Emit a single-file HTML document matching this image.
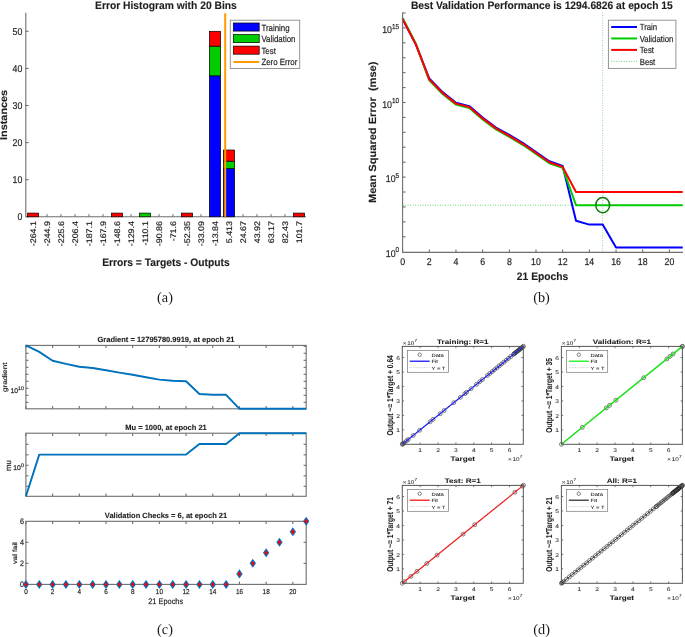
<!DOCTYPE html>
<html><head><meta charset="utf-8"><style>
html,body{margin:0;padding:0;background:#fff;}
body{width:685px;height:637px;overflow:hidden;}
svg{display:block;will-change:transform;}
text{font-family:"Liberation Sans", sans-serif;text-rendering:geometricPrecision;stroke:#1e1e1e;stroke-width:0.3px;stroke-opacity:0.6;}
text[font-weight="bold"]{stroke-width:0.2px;}
#pd text{stroke-width:0.1px;}
</style></head><body>
<svg width="685" height="637" viewBox="0 0 685 637">
<rect width="685" height="637" fill="#fff"/>
<g id="pa">
<line x1="25.80" y1="12.80" x2="25.80" y2="216.80" stroke="#6e6e6e" stroke-width="1.10"/>
<line x1="25.80" y1="216.80" x2="306.00" y2="216.80" stroke="#6e6e6e" stroke-width="1.10"/>
<line x1="25.80" y1="216.80" x2="28.60" y2="216.80" stroke="#6e6e6e" stroke-width="1.10"/>
<text x="0.00" y="0.00" font-size="9.86" text-anchor="end" fill="#1e1e1e" transform="translate(22.40 220.20) scale(0.893 1)">0</text>
<line x1="25.80" y1="179.70" x2="28.60" y2="179.70" stroke="#6e6e6e" stroke-width="1.10"/>
<text x="0.00" y="0.00" font-size="9.86" text-anchor="end" fill="#1e1e1e" transform="translate(22.40 183.10) scale(0.893 1)">10</text>
<line x1="25.80" y1="142.60" x2="28.60" y2="142.60" stroke="#6e6e6e" stroke-width="1.10"/>
<text x="0.00" y="0.00" font-size="9.86" text-anchor="end" fill="#1e1e1e" transform="translate(22.40 146.00) scale(0.893 1)">20</text>
<line x1="25.80" y1="105.50" x2="28.60" y2="105.50" stroke="#6e6e6e" stroke-width="1.10"/>
<text x="0.00" y="0.00" font-size="9.86" text-anchor="end" fill="#1e1e1e" transform="translate(22.40 108.90) scale(0.893 1)">30</text>
<line x1="25.80" y1="68.40" x2="28.60" y2="68.40" stroke="#6e6e6e" stroke-width="1.10"/>
<text x="0.00" y="0.00" font-size="9.86" text-anchor="end" fill="#1e1e1e" transform="translate(22.40 71.80) scale(0.893 1)">40</text>
<line x1="25.80" y1="31.30" x2="28.60" y2="31.30" stroke="#6e6e6e" stroke-width="1.10"/>
<text x="0.00" y="0.00" font-size="9.86" text-anchor="end" fill="#1e1e1e" transform="translate(22.40 34.70) scale(0.893 1)">50</text>
<line x1="33.00" y1="216.80" x2="33.00" y2="214.20" stroke="#6e6e6e" stroke-width="1.10"/>
<text x="0.00" y="0.00" font-size="8.10" text-anchor="end" fill="#1e1e1e" transform="translate(36.25 221.00) rotate(-90) scale(1.100 1)">-264.1</text>
<line x1="47.00" y1="216.80" x2="47.00" y2="214.20" stroke="#6e6e6e" stroke-width="1.10"/>
<text x="0.00" y="0.00" font-size="8.10" text-anchor="end" fill="#1e1e1e" transform="translate(50.25 221.00) rotate(-90) scale(1.100 1)">-244.9</text>
<line x1="61.00" y1="216.80" x2="61.00" y2="214.20" stroke="#6e6e6e" stroke-width="1.10"/>
<text x="0.00" y="0.00" font-size="8.10" text-anchor="end" fill="#1e1e1e" transform="translate(64.25 221.00) rotate(-90) scale(1.100 1)">-225.6</text>
<line x1="75.00" y1="216.80" x2="75.00" y2="214.20" stroke="#6e6e6e" stroke-width="1.10"/>
<text x="0.00" y="0.00" font-size="8.10" text-anchor="end" fill="#1e1e1e" transform="translate(78.25 221.00) rotate(-90) scale(1.100 1)">-206.4</text>
<line x1="89.00" y1="216.80" x2="89.00" y2="214.20" stroke="#6e6e6e" stroke-width="1.10"/>
<text x="0.00" y="0.00" font-size="8.10" text-anchor="end" fill="#1e1e1e" transform="translate(92.25 221.00) rotate(-90) scale(1.100 1)">-187.1</text>
<line x1="103.00" y1="216.80" x2="103.00" y2="214.20" stroke="#6e6e6e" stroke-width="1.10"/>
<text x="0.00" y="0.00" font-size="8.10" text-anchor="end" fill="#1e1e1e" transform="translate(106.25 221.00) rotate(-90) scale(1.100 1)">-167.9</text>
<line x1="117.00" y1="216.80" x2="117.00" y2="214.20" stroke="#6e6e6e" stroke-width="1.10"/>
<text x="0.00" y="0.00" font-size="8.10" text-anchor="end" fill="#1e1e1e" transform="translate(120.25 221.00) rotate(-90) scale(1.100 1)">-148.6</text>
<line x1="131.00" y1="216.80" x2="131.00" y2="214.20" stroke="#6e6e6e" stroke-width="1.10"/>
<text x="0.00" y="0.00" font-size="8.10" text-anchor="end" fill="#1e1e1e" transform="translate(134.25 221.00) rotate(-90) scale(1.100 1)">-129.4</text>
<line x1="145.00" y1="216.80" x2="145.00" y2="214.20" stroke="#6e6e6e" stroke-width="1.10"/>
<text x="0.00" y="0.00" font-size="8.10" text-anchor="end" fill="#1e1e1e" transform="translate(148.25 221.00) rotate(-90) scale(1.100 1)">-110.1</text>
<line x1="159.00" y1="216.80" x2="159.00" y2="214.20" stroke="#6e6e6e" stroke-width="1.10"/>
<text x="0.00" y="0.00" font-size="8.10" text-anchor="end" fill="#1e1e1e" transform="translate(162.25 221.00) rotate(-90) scale(1.100 1)">-90.86</text>
<line x1="173.00" y1="216.80" x2="173.00" y2="214.20" stroke="#6e6e6e" stroke-width="1.10"/>
<text x="0.00" y="0.00" font-size="8.10" text-anchor="end" fill="#1e1e1e" transform="translate(176.25 221.00) rotate(-90) scale(1.100 1)">-71.6</text>
<line x1="187.00" y1="216.80" x2="187.00" y2="214.20" stroke="#6e6e6e" stroke-width="1.10"/>
<text x="0.00" y="0.00" font-size="8.10" text-anchor="end" fill="#1e1e1e" transform="translate(190.25 221.00) rotate(-90) scale(1.100 1)">-52.35</text>
<line x1="201.00" y1="216.80" x2="201.00" y2="214.20" stroke="#6e6e6e" stroke-width="1.10"/>
<text x="0.00" y="0.00" font-size="8.10" text-anchor="end" fill="#1e1e1e" transform="translate(204.25 221.00) rotate(-90) scale(1.100 1)">-33.09</text>
<line x1="215.00" y1="216.80" x2="215.00" y2="214.20" stroke="#6e6e6e" stroke-width="1.10"/>
<text x="0.00" y="0.00" font-size="8.10" text-anchor="end" fill="#1e1e1e" transform="translate(218.25 221.00) rotate(-90) scale(1.100 1)">-13.84</text>
<line x1="229.00" y1="216.80" x2="229.00" y2="214.20" stroke="#6e6e6e" stroke-width="1.10"/>
<text x="0.00" y="0.00" font-size="8.10" text-anchor="end" fill="#1e1e1e" transform="translate(232.25 221.00) rotate(-90) scale(1.100 1)">5.413</text>
<line x1="243.00" y1="216.80" x2="243.00" y2="214.20" stroke="#6e6e6e" stroke-width="1.10"/>
<text x="0.00" y="0.00" font-size="8.10" text-anchor="end" fill="#1e1e1e" transform="translate(246.25 221.00) rotate(-90) scale(1.100 1)">24.67</text>
<line x1="257.00" y1="216.80" x2="257.00" y2="214.20" stroke="#6e6e6e" stroke-width="1.10"/>
<text x="0.00" y="0.00" font-size="8.10" text-anchor="end" fill="#1e1e1e" transform="translate(260.25 221.00) rotate(-90) scale(1.100 1)">43.92</text>
<line x1="271.00" y1="216.80" x2="271.00" y2="214.20" stroke="#6e6e6e" stroke-width="1.10"/>
<text x="0.00" y="0.00" font-size="8.10" text-anchor="end" fill="#1e1e1e" transform="translate(274.25 221.00) rotate(-90) scale(1.100 1)">63.17</text>
<line x1="285.00" y1="216.80" x2="285.00" y2="214.20" stroke="#6e6e6e" stroke-width="1.10"/>
<text x="0.00" y="0.00" font-size="8.10" text-anchor="end" fill="#1e1e1e" transform="translate(288.25 221.00) rotate(-90) scale(1.100 1)">82.43</text>
<line x1="299.00" y1="216.80" x2="299.00" y2="214.20" stroke="#6e6e6e" stroke-width="1.10"/>
<text x="0.00" y="0.00" font-size="8.10" text-anchor="end" fill="#1e1e1e" transform="translate(302.25 221.00) rotate(-90) scale(1.100 1)">101.7</text>
<rect x="27.40" y="213.09" width="11.20" height="3.71" fill="#ff0000" stroke="#000" stroke-width="0.70"/>
<rect x="111.40" y="213.09" width="11.20" height="3.71" fill="#ff0000" stroke="#000" stroke-width="0.70"/>
<rect x="139.40" y="213.09" width="11.20" height="3.71" fill="#00cc00" stroke="#000" stroke-width="0.70"/>
<rect x="181.40" y="213.09" width="11.20" height="3.71" fill="#ff0000" stroke="#000" stroke-width="0.70"/>
<rect x="209.40" y="75.82" width="11.20" height="140.98" fill="#0000ff" stroke="#000" stroke-width="0.70"/>
<rect x="209.40" y="46.14" width="11.20" height="29.68" fill="#00cc00" stroke="#000" stroke-width="0.70"/>
<rect x="209.40" y="31.30" width="11.20" height="14.84" fill="#ff0000" stroke="#000" stroke-width="0.70"/>
<rect x="223.40" y="168.57" width="11.20" height="48.23" fill="#0000ff" stroke="#000" stroke-width="0.70"/>
<rect x="223.40" y="161.15" width="11.20" height="7.42" fill="#00cc00" stroke="#000" stroke-width="0.70"/>
<rect x="223.40" y="150.02" width="11.20" height="11.13" fill="#ff0000" stroke="#000" stroke-width="0.70"/>
<rect x="293.40" y="213.09" width="11.20" height="3.71" fill="#ff0000" stroke="#000" stroke-width="0.70"/>
<line x1="225.20" y1="13.30" x2="225.20" y2="216.80" stroke="#ff9900" stroke-width="2.00"/>
<rect x="230.30" y="20.20" width="69.40" height="48.30" fill="#fff" stroke="#8a8a8a" stroke-width="0.90"/>
<rect x="233.30" y="23.00" width="25.90" height="8.10" fill="#0000ff" stroke="#000" stroke-width="0.70"/>
<text x="0.00" y="0.00" font-size="9.01" text-anchor="start" fill="#1e1e1e" transform="translate(261.40 30.90) scale(0.877 1)">Training</text>
<rect x="233.30" y="34.55" width="25.90" height="8.10" fill="#00cc00" stroke="#000" stroke-width="0.70"/>
<text x="0.00" y="0.00" font-size="9.01" text-anchor="start" fill="#1e1e1e" transform="translate(261.40 42.45) scale(0.877 1)">Validation</text>
<rect x="233.30" y="46.10" width="25.90" height="8.10" fill="#ff0000" stroke="#000" stroke-width="0.70"/>
<text x="0.00" y="0.00" font-size="9.01" text-anchor="start" fill="#1e1e1e" transform="translate(261.40 54.00) scale(0.877 1)">Test</text>
<line x1="233.30" y1="62.00" x2="259.20" y2="62.00" stroke="#ff9900" stroke-width="2.00"/>
<text x="0.00" y="0.00" font-size="9.01" text-anchor="start" fill="#1e1e1e" transform="translate(261.40 65.00) scale(0.877 1)">Zero Error</text>
<text x="0.00" y="0.00" font-size="10.92" text-anchor="middle" font-weight="bold" fill="#1e1e1e" transform="translate(165.90 8.60) scale(0.943 1)">Error Histogram with 20 Bins</text>
<text x="0.00" y="0.00" font-size="10.92" text-anchor="middle" font-weight="bold" fill="#1e1e1e" transform="translate(165.90 266.20) scale(0.943 1)">Errors = Targets - Outputs</text>
<text x="0.00" y="0.00" font-size="9.95" text-anchor="middle" font-weight="bold" fill="#1e1e1e" transform="translate(7.20 114.90) rotate(-90) scale(1.090 1)">Instances</text>
</g>
<g id="pb">
<line x1="402.60" y1="205.20" x2="683.00" y2="205.20" stroke="#33bb33" stroke-width="0.80" stroke-dasharray="0.9 1.6"/>
<line x1="602.70" y1="12.60" x2="602.70" y2="252.40" stroke="#55c055" stroke-width="0.75" stroke-dasharray="0.9 1.6"/>
<polyline points="402.60,19.00 415.94,44.60 429.28,78.50 442.62,92.10 455.96,102.70 469.30,106.10 482.64,117.50 495.98,127.50 509.32,134.90 522.66,142.90 536.00,152.10 549.34,161.30 562.68,166.00 576.02,220.80 589.36,224.60 602.70,224.60 616.04,247.60 629.38,247.60 642.72,247.60 656.06,247.60 669.40,247.60 682.74,247.60" fill="none" stroke="#0000ff" stroke-width="2.00" stroke-linejoin="round"/>
<polyline points="402.60,17.90 415.94,43.80 429.28,80.40 442.62,94.00 455.96,104.60 469.30,108.00 482.64,119.40 495.98,129.40 509.32,136.80 522.66,144.80 536.00,154.00 549.34,163.20 562.68,167.90 576.02,205.20 589.36,205.20 602.70,205.20 616.04,205.20 629.38,205.20 642.72,205.20 656.06,205.20 669.40,205.20 682.74,205.20" fill="none" stroke="#00cc00" stroke-width="2.00" stroke-linejoin="round"/>
<polyline points="402.60,19.00 415.94,44.60 429.28,79.40 442.62,93.00 455.96,103.60 469.30,107.00 482.64,118.40 495.98,128.40 509.32,135.80 522.66,143.80 536.00,153.00 549.34,162.20 562.68,166.90 576.02,192.00 589.36,192.00 602.70,192.00 616.04,192.00 629.38,192.00 642.72,192.00 656.06,192.00 669.40,192.00 682.74,192.00" fill="none" stroke="#ff0000" stroke-width="2.00" stroke-linejoin="round"/>
<ellipse cx="602.70" cy="205.1" rx="6.95" ry="7.65" fill="none" stroke="#0d760d" stroke-width="1.5"/>
<line x1="402.60" y1="12.60" x2="402.60" y2="252.40" stroke="#6e6e6e" stroke-width="1.10"/>
<line x1="402.60" y1="252.40" x2="683.00" y2="252.40" stroke="#6e6e6e" stroke-width="1.10"/>
<line x1="402.60" y1="236.78" x2="405.60" y2="236.78" stroke="#6e6e6e" stroke-width="1.10"/>
<line x1="402.60" y1="221.86" x2="405.60" y2="221.86" stroke="#6e6e6e" stroke-width="1.10"/>
<line x1="402.60" y1="206.94" x2="405.60" y2="206.94" stroke="#6e6e6e" stroke-width="1.10"/>
<line x1="402.60" y1="192.02" x2="405.60" y2="192.02" stroke="#6e6e6e" stroke-width="1.10"/>
<line x1="402.60" y1="177.10" x2="405.60" y2="177.10" stroke="#6e6e6e" stroke-width="1.10"/>
<line x1="402.60" y1="162.18" x2="405.60" y2="162.18" stroke="#6e6e6e" stroke-width="1.10"/>
<line x1="402.60" y1="147.26" x2="405.60" y2="147.26" stroke="#6e6e6e" stroke-width="1.10"/>
<line x1="402.60" y1="132.34" x2="405.60" y2="132.34" stroke="#6e6e6e" stroke-width="1.10"/>
<line x1="402.60" y1="117.42" x2="405.60" y2="117.42" stroke="#6e6e6e" stroke-width="1.10"/>
<line x1="402.60" y1="102.50" x2="405.60" y2="102.50" stroke="#6e6e6e" stroke-width="1.10"/>
<line x1="402.60" y1="87.58" x2="405.60" y2="87.58" stroke="#6e6e6e" stroke-width="1.10"/>
<line x1="402.60" y1="72.66" x2="405.60" y2="72.66" stroke="#6e6e6e" stroke-width="1.10"/>
<line x1="402.60" y1="57.74" x2="405.60" y2="57.74" stroke="#6e6e6e" stroke-width="1.10"/>
<line x1="402.60" y1="42.82" x2="405.60" y2="42.82" stroke="#6e6e6e" stroke-width="1.10"/>
<line x1="402.60" y1="27.90" x2="405.60" y2="27.90" stroke="#6e6e6e" stroke-width="1.10"/>
<line x1="402.60" y1="12.98" x2="405.60" y2="12.98" stroke="#6e6e6e" stroke-width="1.10"/>
<text font-size="9.8" text-anchor="end" fill="#1e1e1e" transform="translate(399.20 257.00) scale(0.9 1)">10<tspan font-size="7.2" dy="-4.6">0</tspan></text>
<text font-size="9.8" text-anchor="end" fill="#1e1e1e" transform="translate(399.20 182.40) scale(0.9 1)">10<tspan font-size="7.2" dy="-4.6">5</tspan></text>
<text font-size="9.8" text-anchor="end" fill="#1e1e1e" transform="translate(399.20 107.80) scale(0.9 1)">10<tspan font-size="7.2" dy="-4.6">10</tspan></text>
<text font-size="9.8" text-anchor="end" fill="#1e1e1e" transform="translate(399.20 33.20) scale(0.9 1)">10<tspan font-size="7.2" dy="-4.6">15</tspan></text>
<line x1="402.60" y1="252.40" x2="402.60" y2="249.40" stroke="#6e6e6e" stroke-width="1.10"/>
<text x="0.00" y="0.00" font-size="9.86" text-anchor="middle" fill="#1e1e1e" transform="translate(402.60 265.40) scale(0.893 1)">0</text>
<line x1="429.28" y1="252.40" x2="429.28" y2="249.40" stroke="#6e6e6e" stroke-width="1.10"/>
<text x="0.00" y="0.00" font-size="9.86" text-anchor="middle" fill="#1e1e1e" transform="translate(429.28 265.40) scale(0.893 1)">2</text>
<line x1="455.96" y1="252.40" x2="455.96" y2="249.40" stroke="#6e6e6e" stroke-width="1.10"/>
<text x="0.00" y="0.00" font-size="9.86" text-anchor="middle" fill="#1e1e1e" transform="translate(455.96 265.40) scale(0.893 1)">4</text>
<line x1="482.64" y1="252.40" x2="482.64" y2="249.40" stroke="#6e6e6e" stroke-width="1.10"/>
<text x="0.00" y="0.00" font-size="9.86" text-anchor="middle" fill="#1e1e1e" transform="translate(482.64 265.40) scale(0.893 1)">6</text>
<line x1="509.32" y1="252.40" x2="509.32" y2="249.40" stroke="#6e6e6e" stroke-width="1.10"/>
<text x="0.00" y="0.00" font-size="9.86" text-anchor="middle" fill="#1e1e1e" transform="translate(509.32 265.40) scale(0.893 1)">8</text>
<line x1="536.00" y1="252.40" x2="536.00" y2="249.40" stroke="#6e6e6e" stroke-width="1.10"/>
<text x="0.00" y="0.00" font-size="9.86" text-anchor="middle" fill="#1e1e1e" transform="translate(536.00 265.40) scale(0.893 1)">10</text>
<line x1="562.68" y1="252.40" x2="562.68" y2="249.40" stroke="#6e6e6e" stroke-width="1.10"/>
<text x="0.00" y="0.00" font-size="9.86" text-anchor="middle" fill="#1e1e1e" transform="translate(562.68 265.40) scale(0.893 1)">12</text>
<line x1="589.36" y1="252.40" x2="589.36" y2="249.40" stroke="#6e6e6e" stroke-width="1.10"/>
<text x="0.00" y="0.00" font-size="9.86" text-anchor="middle" fill="#1e1e1e" transform="translate(589.36 265.40) scale(0.893 1)">14</text>
<line x1="616.04" y1="252.40" x2="616.04" y2="249.40" stroke="#6e6e6e" stroke-width="1.10"/>
<text x="0.00" y="0.00" font-size="9.86" text-anchor="middle" fill="#1e1e1e" transform="translate(616.04 265.40) scale(0.893 1)">16</text>
<line x1="642.72" y1="252.40" x2="642.72" y2="249.40" stroke="#6e6e6e" stroke-width="1.10"/>
<text x="0.00" y="0.00" font-size="9.86" text-anchor="middle" fill="#1e1e1e" transform="translate(642.72 265.40) scale(0.893 1)">18</text>
<line x1="669.40" y1="252.40" x2="669.40" y2="249.40" stroke="#6e6e6e" stroke-width="1.10"/>
<text x="0.00" y="0.00" font-size="9.86" text-anchor="middle" fill="#1e1e1e" transform="translate(669.40 265.40) scale(0.893 1)">20</text>
<rect x="608.40" y="20.20" width="67.50" height="48.20" fill="#fff" stroke="#8a8a8a" stroke-width="0.90"/>
<line x1="611.20" y1="27.00" x2="637.00" y2="27.00" stroke="#0000ff" stroke-width="2.00"/>
<text x="0.00" y="0.00" font-size="8.89" text-anchor="start" fill="#1e1e1e" transform="translate(639.70 30.10) scale(0.877 1)">Train</text>
<line x1="611.20" y1="38.45" x2="637.00" y2="38.45" stroke="#00cc00" stroke-width="2.00"/>
<text x="0.00" y="0.00" font-size="8.89" text-anchor="start" fill="#1e1e1e" transform="translate(639.70 41.55) scale(0.877 1)">Validation</text>
<line x1="611.20" y1="49.90" x2="637.00" y2="49.90" stroke="#ff0000" stroke-width="2.00"/>
<text x="0.00" y="0.00" font-size="8.89" text-anchor="start" fill="#1e1e1e" transform="translate(639.70 53.00) scale(0.877 1)">Test</text>
<line x1="611.20" y1="61.40" x2="637.00" y2="61.40" stroke="#33bb33" stroke-width="0.80" stroke-dasharray="0.9 1.6"/>
<text x="0.00" y="0.00" font-size="8.89" text-anchor="start" fill="#1e1e1e" transform="translate(639.70 64.50) scale(0.877 1)">Best</text>
<text x="0.00" y="0.00" font-size="10.92" text-anchor="middle" font-weight="bold" fill="#1e1e1e" transform="translate(541.80 8.60) scale(0.943 1)">Best Validation Performance is 1294.6826 at epoch 15</text>
<text x="0.00" y="0.00" font-size="10.92" text-anchor="middle" font-weight="bold" fill="#1e1e1e" transform="translate(542.60 279.80) scale(0.943 1)">21 Epochs</text>
<text x="0.00" y="0.00" font-size="10.40" text-anchor="middle" font-weight="bold" fill="#1e1e1e" transform="translate(376.40 132.30) rotate(-90) scale(1.065 1)">Mean Squared Error &#160;(mse)</text>
</g>
<g id="pc">
<rect x="25.90" y="345.40" width="280.30" height="63.40" fill="none" stroke="#6e6e6e" stroke-width="1.10"/>
<line x1="25.90" y1="408.80" x2="25.90" y2="406.10" stroke="#6e6e6e" stroke-width="1.10"/>
<line x1="25.90" y1="345.40" x2="25.90" y2="348.10" stroke="#6e6e6e" stroke-width="1.10"/>
<line x1="52.60" y1="408.80" x2="52.60" y2="406.10" stroke="#6e6e6e" stroke-width="1.10"/>
<line x1="52.60" y1="345.40" x2="52.60" y2="348.10" stroke="#6e6e6e" stroke-width="1.10"/>
<line x1="79.29" y1="408.80" x2="79.29" y2="406.10" stroke="#6e6e6e" stroke-width="1.10"/>
<line x1="79.29" y1="345.40" x2="79.29" y2="348.10" stroke="#6e6e6e" stroke-width="1.10"/>
<line x1="105.99" y1="408.80" x2="105.99" y2="406.10" stroke="#6e6e6e" stroke-width="1.10"/>
<line x1="105.99" y1="345.40" x2="105.99" y2="348.10" stroke="#6e6e6e" stroke-width="1.10"/>
<line x1="132.68" y1="408.80" x2="132.68" y2="406.10" stroke="#6e6e6e" stroke-width="1.10"/>
<line x1="132.68" y1="345.40" x2="132.68" y2="348.10" stroke="#6e6e6e" stroke-width="1.10"/>
<line x1="159.38" y1="408.80" x2="159.38" y2="406.10" stroke="#6e6e6e" stroke-width="1.10"/>
<line x1="159.38" y1="345.40" x2="159.38" y2="348.10" stroke="#6e6e6e" stroke-width="1.10"/>
<line x1="186.07" y1="408.80" x2="186.07" y2="406.10" stroke="#6e6e6e" stroke-width="1.10"/>
<line x1="186.07" y1="345.40" x2="186.07" y2="348.10" stroke="#6e6e6e" stroke-width="1.10"/>
<line x1="212.77" y1="408.80" x2="212.77" y2="406.10" stroke="#6e6e6e" stroke-width="1.10"/>
<line x1="212.77" y1="345.40" x2="212.77" y2="348.10" stroke="#6e6e6e" stroke-width="1.10"/>
<line x1="239.46" y1="408.80" x2="239.46" y2="406.10" stroke="#6e6e6e" stroke-width="1.10"/>
<line x1="239.46" y1="345.40" x2="239.46" y2="348.10" stroke="#6e6e6e" stroke-width="1.10"/>
<line x1="266.16" y1="408.80" x2="266.16" y2="406.10" stroke="#6e6e6e" stroke-width="1.10"/>
<line x1="266.16" y1="345.40" x2="266.16" y2="348.10" stroke="#6e6e6e" stroke-width="1.10"/>
<line x1="292.85" y1="408.80" x2="292.85" y2="406.10" stroke="#6e6e6e" stroke-width="1.10"/>
<line x1="292.85" y1="345.40" x2="292.85" y2="348.10" stroke="#6e6e6e" stroke-width="1.10"/>
<line x1="25.90" y1="346.30" x2="28.50" y2="346.30" stroke="#6e6e6e" stroke-width="1.10"/>
<line x1="306.20" y1="346.30" x2="303.60" y2="346.30" stroke="#6e6e6e" stroke-width="1.10"/>
<line x1="25.90" y1="353.30" x2="28.50" y2="353.30" stroke="#6e6e6e" stroke-width="1.10"/>
<line x1="306.20" y1="353.30" x2="303.60" y2="353.30" stroke="#6e6e6e" stroke-width="1.10"/>
<line x1="25.90" y1="360.30" x2="28.50" y2="360.30" stroke="#6e6e6e" stroke-width="1.10"/>
<line x1="306.20" y1="360.30" x2="303.60" y2="360.30" stroke="#6e6e6e" stroke-width="1.10"/>
<line x1="25.90" y1="367.30" x2="28.50" y2="367.30" stroke="#6e6e6e" stroke-width="1.10"/>
<line x1="306.20" y1="367.30" x2="303.60" y2="367.30" stroke="#6e6e6e" stroke-width="1.10"/>
<line x1="25.90" y1="374.30" x2="28.50" y2="374.30" stroke="#6e6e6e" stroke-width="1.10"/>
<line x1="306.20" y1="374.30" x2="303.60" y2="374.30" stroke="#6e6e6e" stroke-width="1.10"/>
<line x1="25.90" y1="381.30" x2="28.50" y2="381.30" stroke="#6e6e6e" stroke-width="1.10"/>
<line x1="306.20" y1="381.30" x2="303.60" y2="381.30" stroke="#6e6e6e" stroke-width="1.10"/>
<line x1="25.90" y1="388.30" x2="28.50" y2="388.30" stroke="#6e6e6e" stroke-width="1.10"/>
<line x1="306.20" y1="388.30" x2="303.60" y2="388.30" stroke="#6e6e6e" stroke-width="1.10"/>
<line x1="25.90" y1="395.30" x2="28.50" y2="395.30" stroke="#6e6e6e" stroke-width="1.10"/>
<line x1="306.20" y1="395.30" x2="303.60" y2="395.30" stroke="#6e6e6e" stroke-width="1.10"/>
<line x1="25.90" y1="402.30" x2="28.50" y2="402.30" stroke="#6e6e6e" stroke-width="1.10"/>
<line x1="306.20" y1="402.30" x2="303.60" y2="402.30" stroke="#6e6e6e" stroke-width="1.10"/>
<polyline points="25.90,345.40 39.25,351.90 52.60,360.80 65.94,363.90 79.29,366.80 92.64,368.00 105.99,370.20 119.33,372.60 132.68,374.70 146.03,377.30 159.38,379.60 172.72,380.80 186.07,381.20 199.42,394.00 212.77,394.80 226.11,394.80 239.46,408.80 252.81,408.80 266.16,408.80 279.50,408.80 292.85,408.80 306.20,408.80" fill="none" stroke="#0072bd" stroke-width="1.90" stroke-linejoin="round"/>
<text x="23.8" y="393.0" font-size="6.8" text-anchor="end" fill="#1e1e1e">10<tspan font-size="5.2" dy="-3.1">10</tspan></text>
<text font-size="6.5" text-anchor="middle" fill="#1e1e1e" transform="translate(7.0 377.3) rotate(-90) scale(1.26 1)">gradient</text>
<text x="166.00" y="341.60" font-size="7.50" text-anchor="middle" font-weight="bold" fill="#1e1e1e">Gradient = 12795780.9919, at epoch 21</text>
<rect x="25.90" y="433.20" width="280.30" height="63.10" fill="none" stroke="#6e6e6e" stroke-width="1.10"/>
<line x1="25.90" y1="496.30" x2="25.90" y2="493.60" stroke="#6e6e6e" stroke-width="1.10"/>
<line x1="25.90" y1="433.20" x2="25.90" y2="435.90" stroke="#6e6e6e" stroke-width="1.10"/>
<line x1="52.60" y1="496.30" x2="52.60" y2="493.60" stroke="#6e6e6e" stroke-width="1.10"/>
<line x1="52.60" y1="433.20" x2="52.60" y2="435.90" stroke="#6e6e6e" stroke-width="1.10"/>
<line x1="79.29" y1="496.30" x2="79.29" y2="493.60" stroke="#6e6e6e" stroke-width="1.10"/>
<line x1="79.29" y1="433.20" x2="79.29" y2="435.90" stroke="#6e6e6e" stroke-width="1.10"/>
<line x1="105.99" y1="496.30" x2="105.99" y2="493.60" stroke="#6e6e6e" stroke-width="1.10"/>
<line x1="105.99" y1="433.20" x2="105.99" y2="435.90" stroke="#6e6e6e" stroke-width="1.10"/>
<line x1="132.68" y1="496.30" x2="132.68" y2="493.60" stroke="#6e6e6e" stroke-width="1.10"/>
<line x1="132.68" y1="433.20" x2="132.68" y2="435.90" stroke="#6e6e6e" stroke-width="1.10"/>
<line x1="159.38" y1="496.30" x2="159.38" y2="493.60" stroke="#6e6e6e" stroke-width="1.10"/>
<line x1="159.38" y1="433.20" x2="159.38" y2="435.90" stroke="#6e6e6e" stroke-width="1.10"/>
<line x1="186.07" y1="496.30" x2="186.07" y2="493.60" stroke="#6e6e6e" stroke-width="1.10"/>
<line x1="186.07" y1="433.20" x2="186.07" y2="435.90" stroke="#6e6e6e" stroke-width="1.10"/>
<line x1="212.77" y1="496.30" x2="212.77" y2="493.60" stroke="#6e6e6e" stroke-width="1.10"/>
<line x1="212.77" y1="433.20" x2="212.77" y2="435.90" stroke="#6e6e6e" stroke-width="1.10"/>
<line x1="239.46" y1="496.30" x2="239.46" y2="493.60" stroke="#6e6e6e" stroke-width="1.10"/>
<line x1="239.46" y1="433.20" x2="239.46" y2="435.90" stroke="#6e6e6e" stroke-width="1.10"/>
<line x1="266.16" y1="496.30" x2="266.16" y2="493.60" stroke="#6e6e6e" stroke-width="1.10"/>
<line x1="266.16" y1="433.20" x2="266.16" y2="435.90" stroke="#6e6e6e" stroke-width="1.10"/>
<line x1="292.85" y1="496.30" x2="292.85" y2="493.60" stroke="#6e6e6e" stroke-width="1.10"/>
<line x1="292.85" y1="433.20" x2="292.85" y2="435.90" stroke="#6e6e6e" stroke-width="1.10"/>
<line x1="25.90" y1="444.30" x2="28.50" y2="444.30" stroke="#6e6e6e" stroke-width="1.10"/>
<line x1="306.20" y1="444.30" x2="303.60" y2="444.30" stroke="#6e6e6e" stroke-width="1.10"/>
<line x1="25.90" y1="454.80" x2="28.50" y2="454.80" stroke="#6e6e6e" stroke-width="1.10"/>
<line x1="306.20" y1="454.80" x2="303.60" y2="454.80" stroke="#6e6e6e" stroke-width="1.10"/>
<line x1="25.90" y1="465.30" x2="28.50" y2="465.30" stroke="#6e6e6e" stroke-width="1.10"/>
<line x1="306.20" y1="465.30" x2="303.60" y2="465.30" stroke="#6e6e6e" stroke-width="1.10"/>
<line x1="25.90" y1="475.80" x2="28.50" y2="475.80" stroke="#6e6e6e" stroke-width="1.10"/>
<line x1="306.20" y1="475.80" x2="303.60" y2="475.80" stroke="#6e6e6e" stroke-width="1.10"/>
<line x1="25.90" y1="486.30" x2="28.50" y2="486.30" stroke="#6e6e6e" stroke-width="1.10"/>
<line x1="306.20" y1="486.30" x2="303.60" y2="486.30" stroke="#6e6e6e" stroke-width="1.10"/>
<polyline points="25.90,496.30 39.25,454.60 52.60,454.60 65.94,454.60 79.29,454.60 92.64,454.60 105.99,454.60 119.33,454.60 132.68,454.60 146.03,454.60 159.38,454.60 172.72,454.60 186.07,454.60 199.42,444.00 212.77,444.00 226.11,444.00 239.46,433.20 252.81,433.20 266.16,433.20 279.50,433.20 292.85,433.20 306.20,433.20" fill="none" stroke="#0072bd" stroke-width="1.90" stroke-linejoin="round"/>
<text x="23.8" y="469.6" font-size="6.8" text-anchor="end" fill="#1e1e1e">10<tspan font-size="5.2" dy="-3.1">0</tspan></text>
<text x="0.00" y="0.00" font-size="7.80" text-anchor="middle" fill="#1e1e1e" transform="translate(10.60 465.50) rotate(-90)">mu</text>
<text x="166.00" y="429.60" font-size="7.50" text-anchor="middle" font-weight="bold" fill="#1e1e1e">Mu = 1000, at epoch 21</text>
<rect x="25.90" y="521.30" width="280.30" height="63.10" fill="none" stroke="#6e6e6e" stroke-width="1.10"/>
<line x1="25.90" y1="584.40" x2="25.90" y2="581.70" stroke="#6e6e6e" stroke-width="1.10"/>
<line x1="25.90" y1="521.30" x2="25.90" y2="524.00" stroke="#6e6e6e" stroke-width="1.10"/>
<text x="0.00" y="0.00" font-size="7.17" text-anchor="middle" fill="#1e1e1e" transform="translate(25.90 593.90) scale(0.893 1)">0</text>
<line x1="52.60" y1="584.40" x2="52.60" y2="581.70" stroke="#6e6e6e" stroke-width="1.10"/>
<line x1="52.60" y1="521.30" x2="52.60" y2="524.00" stroke="#6e6e6e" stroke-width="1.10"/>
<text x="0.00" y="0.00" font-size="7.17" text-anchor="middle" fill="#1e1e1e" transform="translate(52.60 593.90) scale(0.893 1)">2</text>
<line x1="79.29" y1="584.40" x2="79.29" y2="581.70" stroke="#6e6e6e" stroke-width="1.10"/>
<line x1="79.29" y1="521.30" x2="79.29" y2="524.00" stroke="#6e6e6e" stroke-width="1.10"/>
<text x="0.00" y="0.00" font-size="7.17" text-anchor="middle" fill="#1e1e1e" transform="translate(79.29 593.90) scale(0.893 1)">4</text>
<line x1="105.99" y1="584.40" x2="105.99" y2="581.70" stroke="#6e6e6e" stroke-width="1.10"/>
<line x1="105.99" y1="521.30" x2="105.99" y2="524.00" stroke="#6e6e6e" stroke-width="1.10"/>
<text x="0.00" y="0.00" font-size="7.17" text-anchor="middle" fill="#1e1e1e" transform="translate(105.99 593.90) scale(0.893 1)">6</text>
<line x1="132.68" y1="584.40" x2="132.68" y2="581.70" stroke="#6e6e6e" stroke-width="1.10"/>
<line x1="132.68" y1="521.30" x2="132.68" y2="524.00" stroke="#6e6e6e" stroke-width="1.10"/>
<text x="0.00" y="0.00" font-size="7.17" text-anchor="middle" fill="#1e1e1e" transform="translate(132.68 593.90) scale(0.893 1)">8</text>
<line x1="159.38" y1="584.40" x2="159.38" y2="581.70" stroke="#6e6e6e" stroke-width="1.10"/>
<line x1="159.38" y1="521.30" x2="159.38" y2="524.00" stroke="#6e6e6e" stroke-width="1.10"/>
<text x="0.00" y="0.00" font-size="7.17" text-anchor="middle" fill="#1e1e1e" transform="translate(159.38 593.90) scale(0.893 1)">10</text>
<line x1="186.07" y1="584.40" x2="186.07" y2="581.70" stroke="#6e6e6e" stroke-width="1.10"/>
<line x1="186.07" y1="521.30" x2="186.07" y2="524.00" stroke="#6e6e6e" stroke-width="1.10"/>
<text x="0.00" y="0.00" font-size="7.17" text-anchor="middle" fill="#1e1e1e" transform="translate(186.07 593.90) scale(0.893 1)">12</text>
<line x1="212.77" y1="584.40" x2="212.77" y2="581.70" stroke="#6e6e6e" stroke-width="1.10"/>
<line x1="212.77" y1="521.30" x2="212.77" y2="524.00" stroke="#6e6e6e" stroke-width="1.10"/>
<text x="0.00" y="0.00" font-size="7.17" text-anchor="middle" fill="#1e1e1e" transform="translate(212.77 593.90) scale(0.893 1)">14</text>
<line x1="239.46" y1="584.40" x2="239.46" y2="581.70" stroke="#6e6e6e" stroke-width="1.10"/>
<line x1="239.46" y1="521.30" x2="239.46" y2="524.00" stroke="#6e6e6e" stroke-width="1.10"/>
<text x="0.00" y="0.00" font-size="7.17" text-anchor="middle" fill="#1e1e1e" transform="translate(239.46 593.90) scale(0.893 1)">16</text>
<line x1="266.16" y1="584.40" x2="266.16" y2="581.70" stroke="#6e6e6e" stroke-width="1.10"/>
<line x1="266.16" y1="521.30" x2="266.16" y2="524.00" stroke="#6e6e6e" stroke-width="1.10"/>
<text x="0.00" y="0.00" font-size="7.17" text-anchor="middle" fill="#1e1e1e" transform="translate(266.16 593.90) scale(0.893 1)">18</text>
<line x1="292.85" y1="584.40" x2="292.85" y2="581.70" stroke="#6e6e6e" stroke-width="1.10"/>
<line x1="292.85" y1="521.30" x2="292.85" y2="524.00" stroke="#6e6e6e" stroke-width="1.10"/>
<text x="0.00" y="0.00" font-size="7.17" text-anchor="middle" fill="#1e1e1e" transform="translate(292.85 593.90) scale(0.893 1)">20</text>
<line x1="25.90" y1="563.36" x2="28.50" y2="563.36" stroke="#6e6e6e" stroke-width="1.10"/>
<line x1="306.20" y1="563.36" x2="303.60" y2="563.36" stroke="#6e6e6e" stroke-width="1.10"/>
<line x1="25.90" y1="542.32" x2="28.50" y2="542.32" stroke="#6e6e6e" stroke-width="1.10"/>
<line x1="306.20" y1="542.32" x2="303.60" y2="542.32" stroke="#6e6e6e" stroke-width="1.10"/>
<text x="0.00" y="0.00" font-size="7.92" text-anchor="end" fill="#1e1e1e" transform="translate(24.10 587.20) scale(0.909 1)">0</text>
<text x="0.00" y="0.00" font-size="7.92" text-anchor="end" fill="#1e1e1e" transform="translate(24.10 566.16) scale(0.909 1)">2</text>
<text x="0.00" y="0.00" font-size="7.92" text-anchor="end" fill="#1e1e1e" transform="translate(24.10 545.12) scale(0.909 1)">4</text>
<text x="0.00" y="0.00" font-size="7.92" text-anchor="end" fill="#1e1e1e" transform="translate(24.10 524.08) scale(0.909 1)">6</text>
<path d="M25.90 580.85L28.40 584.40L25.90 587.95L23.40 584.40Z" fill="#ff0000" stroke="#0072bd" stroke-width="1.1"/>
<path d="M39.25 580.85L41.75 584.40L39.25 587.95L36.75 584.40Z" fill="#ff0000" stroke="#0072bd" stroke-width="1.1"/>
<path d="M52.60 580.85L55.10 584.40L52.60 587.95L50.10 584.40Z" fill="#ff0000" stroke="#0072bd" stroke-width="1.1"/>
<path d="M65.94 580.85L68.44 584.40L65.94 587.95L63.44 584.40Z" fill="#ff0000" stroke="#0072bd" stroke-width="1.1"/>
<path d="M79.29 580.85L81.79 584.40L79.29 587.95L76.79 584.40Z" fill="#ff0000" stroke="#0072bd" stroke-width="1.1"/>
<path d="M92.64 580.85L95.14 584.40L92.64 587.95L90.14 584.40Z" fill="#ff0000" stroke="#0072bd" stroke-width="1.1"/>
<path d="M105.99 580.85L108.49 584.40L105.99 587.95L103.49 584.40Z" fill="#ff0000" stroke="#0072bd" stroke-width="1.1"/>
<path d="M119.33 580.85L121.83 584.40L119.33 587.95L116.83 584.40Z" fill="#ff0000" stroke="#0072bd" stroke-width="1.1"/>
<path d="M132.68 580.85L135.18 584.40L132.68 587.95L130.18 584.40Z" fill="#ff0000" stroke="#0072bd" stroke-width="1.1"/>
<path d="M146.03 580.85L148.53 584.40L146.03 587.95L143.53 584.40Z" fill="#ff0000" stroke="#0072bd" stroke-width="1.1"/>
<path d="M159.38 580.85L161.88 584.40L159.38 587.95L156.88 584.40Z" fill="#ff0000" stroke="#0072bd" stroke-width="1.1"/>
<path d="M172.72 580.85L175.22 584.40L172.72 587.95L170.22 584.40Z" fill="#ff0000" stroke="#0072bd" stroke-width="1.1"/>
<path d="M186.07 580.85L188.57 584.40L186.07 587.95L183.57 584.40Z" fill="#ff0000" stroke="#0072bd" stroke-width="1.1"/>
<path d="M199.42 580.85L201.92 584.40L199.42 587.95L196.92 584.40Z" fill="#ff0000" stroke="#0072bd" stroke-width="1.1"/>
<path d="M212.77 580.85L215.27 584.40L212.77 587.95L210.27 584.40Z" fill="#ff0000" stroke="#0072bd" stroke-width="1.1"/>
<path d="M226.11 580.85L228.61 584.40L226.11 587.95L223.61 584.40Z" fill="#ff0000" stroke="#0072bd" stroke-width="1.1"/>
<path d="M239.46 570.33L241.96 573.88L239.46 577.43L236.96 573.88Z" fill="#ff0000" stroke="#0072bd" stroke-width="1.1"/>
<path d="M252.81 559.81L255.31 563.36L252.81 566.91L250.31 563.36Z" fill="#ff0000" stroke="#0072bd" stroke-width="1.1"/>
<path d="M266.16 549.29L268.66 552.84L266.16 556.39L263.66 552.84Z" fill="#ff0000" stroke="#0072bd" stroke-width="1.1"/>
<path d="M279.50 538.77L282.00 542.32L279.50 545.87L277.00 542.32Z" fill="#ff0000" stroke="#0072bd" stroke-width="1.1"/>
<path d="M292.85 528.25L295.35 531.80L292.85 535.35L290.35 531.80Z" fill="#ff0000" stroke="#0072bd" stroke-width="1.1"/>
<path d="M306.20 517.73L308.70 521.28L306.20 524.83L303.70 521.28Z" fill="#ff0000" stroke="#0072bd" stroke-width="1.1"/>
<text font-size="6.3" text-anchor="middle" fill="#1e1e1e" transform="translate(17.2 553.1) rotate(-90) scale(1.22 1)">val fail</text>
<text x="166.00" y="517.60" font-size="7.50" text-anchor="middle" font-weight="bold" fill="#1e1e1e">Validation Checks = 6, at epoch 21</text>
<text x="0.00" y="0.00" font-size="8.14" text-anchor="middle" fill="#1e1e1e" transform="translate(165.70 603.80) scale(0.909 1)">21 Epochs</text>
</g>
<g id="pd">
<g>
<circle cx="402.30" cy="444.30" r="1.95" fill="none" stroke="#2e2e2e" stroke-width="0.6"/>
<circle cx="402.66" cy="444.01" r="1.95" fill="none" stroke="#2e2e2e" stroke-width="0.6"/>
<circle cx="403.37" cy="443.43" r="1.95" fill="none" stroke="#2e2e2e" stroke-width="0.6"/>
<circle cx="404.09" cy="442.85" r="1.95" fill="none" stroke="#2e2e2e" stroke-width="0.6"/>
<circle cx="406.59" cy="440.83" r="1.95" fill="none" stroke="#2e2e2e" stroke-width="0.6"/>
<circle cx="408.20" cy="439.53" r="1.95" fill="none" stroke="#2e2e2e" stroke-width="0.6"/>
<circle cx="413.20" cy="435.48" r="1.95" fill="none" stroke="#2e2e2e" stroke-width="0.6"/>
<circle cx="419.64" cy="430.27" r="1.95" fill="none" stroke="#2e2e2e" stroke-width="0.6"/>
<circle cx="430.18" cy="421.74" r="1.95" fill="none" stroke="#2e2e2e" stroke-width="0.6"/>
<circle cx="433.04" cy="419.43" r="1.95" fill="none" stroke="#2e2e2e" stroke-width="0.6"/>
<circle cx="440.19" cy="413.64" r="1.95" fill="none" stroke="#2e2e2e" stroke-width="0.6"/>
<circle cx="444.12" cy="410.46" r="1.95" fill="none" stroke="#2e2e2e" stroke-width="0.6"/>
<circle cx="453.77" cy="402.65" r="1.95" fill="none" stroke="#2e2e2e" stroke-width="0.6"/>
<circle cx="460.39" cy="397.30" r="1.95" fill="none" stroke="#2e2e2e" stroke-width="0.6"/>
<circle cx="464.86" cy="393.69" r="1.95" fill="none" stroke="#2e2e2e" stroke-width="0.6"/>
<circle cx="466.64" cy="392.24" r="1.95" fill="none" stroke="#2e2e2e" stroke-width="0.6"/>
<circle cx="471.11" cy="388.63" r="1.95" fill="none" stroke="#2e2e2e" stroke-width="0.6"/>
<circle cx="476.47" cy="384.29" r="1.95" fill="none" stroke="#2e2e2e" stroke-width="0.6"/>
<circle cx="479.69" cy="381.68" r="1.95" fill="none" stroke="#2e2e2e" stroke-width="0.6"/>
<circle cx="482.37" cy="379.52" r="1.95" fill="none" stroke="#2e2e2e" stroke-width="0.6"/>
<circle cx="487.38" cy="375.47" r="1.95" fill="none" stroke="#2e2e2e" stroke-width="0.6"/>
<circle cx="489.88" cy="373.44" r="1.95" fill="none" stroke="#2e2e2e" stroke-width="0.6"/>
<circle cx="492.20" cy="371.56" r="1.95" fill="none" stroke="#2e2e2e" stroke-width="0.6"/>
<circle cx="494.52" cy="369.68" r="1.95" fill="none" stroke="#2e2e2e" stroke-width="0.6"/>
<circle cx="496.85" cy="367.80" r="1.95" fill="none" stroke="#2e2e2e" stroke-width="0.6"/>
<circle cx="499.17" cy="365.92" r="1.95" fill="none" stroke="#2e2e2e" stroke-width="0.6"/>
<circle cx="501.49" cy="364.04" r="1.95" fill="none" stroke="#2e2e2e" stroke-width="0.6"/>
<circle cx="503.82" cy="362.16" r="1.95" fill="none" stroke="#2e2e2e" stroke-width="0.6"/>
<circle cx="506.14" cy="360.28" r="1.95" fill="none" stroke="#2e2e2e" stroke-width="0.6"/>
<circle cx="508.47" cy="358.40" r="1.95" fill="none" stroke="#2e2e2e" stroke-width="0.6"/>
<circle cx="510.79" cy="356.52" r="1.95" fill="none" stroke="#2e2e2e" stroke-width="0.6"/>
<circle cx="513.47" cy="354.35" r="1.95" fill="none" stroke="#2e2e2e" stroke-width="0.6"/>
<circle cx="514.24" cy="353.73" r="1.95" fill="none" stroke="#2e2e2e" stroke-width="0.6"/>
<circle cx="515.01" cy="353.11" r="1.95" fill="none" stroke="#2e2e2e" stroke-width="0.6"/>
<circle cx="515.78" cy="352.48" r="1.95" fill="none" stroke="#2e2e2e" stroke-width="0.6"/>
<circle cx="516.55" cy="351.86" r="1.95" fill="none" stroke="#2e2e2e" stroke-width="0.6"/>
<circle cx="517.32" cy="351.24" r="1.95" fill="none" stroke="#2e2e2e" stroke-width="0.6"/>
<circle cx="518.09" cy="350.62" r="1.95" fill="none" stroke="#2e2e2e" stroke-width="0.6"/>
<circle cx="518.86" cy="349.99" r="1.95" fill="none" stroke="#2e2e2e" stroke-width="0.6"/>
<circle cx="519.63" cy="349.37" r="1.95" fill="none" stroke="#2e2e2e" stroke-width="0.6"/>
<circle cx="520.40" cy="348.75" r="1.95" fill="none" stroke="#2e2e2e" stroke-width="0.6"/>
<circle cx="521.17" cy="348.12" r="1.95" fill="none" stroke="#2e2e2e" stroke-width="0.6"/>
<circle cx="521.94" cy="347.50" r="1.95" fill="none" stroke="#2e2e2e" stroke-width="0.6"/>
<circle cx="522.71" cy="346.88" r="1.95" fill="none" stroke="#2e2e2e" stroke-width="0.6"/>
<circle cx="523.48" cy="346.26" r="1.95" fill="none" stroke="#2e2e2e" stroke-width="0.6"/>
<line x1="402.30" y1="444.30" x2="523.30" y2="346.40" stroke="#0000ff" stroke-width="1.20"/>
<line x1="402.30" y1="444.30" x2="523.30" y2="346.40" stroke="#999" stroke-width="0.60" stroke-dasharray="1 1"/>
<rect x="402.30" y="346.40" width="121.00" height="97.90" fill="none" stroke="#555" stroke-width="1.0"/>
<line x1="420.17" y1="444.30" x2="420.17" y2="442.50" stroke="#555" stroke-width="0.80"/>
<line x1="420.17" y1="346.40" x2="420.17" y2="348.20" stroke="#555" stroke-width="0.80"/>
<text x="0.00" y="0.00" font-size="5.30" text-anchor="middle" fill="#333" transform="translate(420.17 451.60) scale(1.250 1)">1</text>
<line x1="402.30" y1="429.84" x2="404.10" y2="429.84" stroke="#555" stroke-width="0.80"/>
<line x1="523.30" y1="429.84" x2="521.50" y2="429.84" stroke="#555" stroke-width="0.80"/>
<text x="0.00" y="0.00" font-size="5.30" text-anchor="end" fill="#333" transform="translate(399.90 432.24) scale(1.250 1)">1</text>
<line x1="438.05" y1="444.30" x2="438.05" y2="442.50" stroke="#555" stroke-width="0.80"/>
<line x1="438.05" y1="346.40" x2="438.05" y2="348.20" stroke="#555" stroke-width="0.80"/>
<text x="0.00" y="0.00" font-size="5.30" text-anchor="middle" fill="#333" transform="translate(438.05 451.60) scale(1.250 1)">2</text>
<line x1="402.30" y1="415.38" x2="404.10" y2="415.38" stroke="#555" stroke-width="0.80"/>
<line x1="523.30" y1="415.38" x2="521.50" y2="415.38" stroke="#555" stroke-width="0.80"/>
<text x="0.00" y="0.00" font-size="5.30" text-anchor="end" fill="#333" transform="translate(399.90 417.78) scale(1.250 1)">2</text>
<line x1="455.92" y1="444.30" x2="455.92" y2="442.50" stroke="#555" stroke-width="0.80"/>
<line x1="455.92" y1="346.40" x2="455.92" y2="348.20" stroke="#555" stroke-width="0.80"/>
<text x="0.00" y="0.00" font-size="5.30" text-anchor="middle" fill="#333" transform="translate(455.92 451.60) scale(1.250 1)">3</text>
<line x1="402.30" y1="400.92" x2="404.10" y2="400.92" stroke="#555" stroke-width="0.80"/>
<line x1="523.30" y1="400.92" x2="521.50" y2="400.92" stroke="#555" stroke-width="0.80"/>
<text x="0.00" y="0.00" font-size="5.30" text-anchor="end" fill="#333" transform="translate(399.90 403.32) scale(1.250 1)">3</text>
<line x1="473.79" y1="444.30" x2="473.79" y2="442.50" stroke="#555" stroke-width="0.80"/>
<line x1="473.79" y1="346.40" x2="473.79" y2="348.20" stroke="#555" stroke-width="0.80"/>
<text x="0.00" y="0.00" font-size="5.30" text-anchor="middle" fill="#333" transform="translate(473.79 451.60) scale(1.250 1)">4</text>
<line x1="402.30" y1="386.46" x2="404.10" y2="386.46" stroke="#555" stroke-width="0.80"/>
<line x1="523.30" y1="386.46" x2="521.50" y2="386.46" stroke="#555" stroke-width="0.80"/>
<text x="0.00" y="0.00" font-size="5.30" text-anchor="end" fill="#333" transform="translate(399.90 388.86) scale(1.250 1)">4</text>
<line x1="491.66" y1="444.30" x2="491.66" y2="442.50" stroke="#555" stroke-width="0.80"/>
<line x1="491.66" y1="346.40" x2="491.66" y2="348.20" stroke="#555" stroke-width="0.80"/>
<text x="0.00" y="0.00" font-size="5.30" text-anchor="middle" fill="#333" transform="translate(491.66 451.60) scale(1.250 1)">5</text>
<line x1="402.30" y1="372.00" x2="404.10" y2="372.00" stroke="#555" stroke-width="0.80"/>
<line x1="523.30" y1="372.00" x2="521.50" y2="372.00" stroke="#555" stroke-width="0.80"/>
<text x="0.00" y="0.00" font-size="5.30" text-anchor="end" fill="#333" transform="translate(399.90 374.40) scale(1.250 1)">5</text>
<line x1="509.54" y1="444.30" x2="509.54" y2="442.50" stroke="#555" stroke-width="0.80"/>
<line x1="509.54" y1="346.40" x2="509.54" y2="348.20" stroke="#555" stroke-width="0.80"/>
<text x="0.00" y="0.00" font-size="5.30" text-anchor="middle" fill="#333" transform="translate(509.54 451.60) scale(1.250 1)">6</text>
<line x1="402.30" y1="357.53" x2="404.10" y2="357.53" stroke="#555" stroke-width="0.80"/>
<line x1="523.30" y1="357.53" x2="521.50" y2="357.53" stroke="#555" stroke-width="0.80"/>
<text x="0.00" y="0.00" font-size="5.30" text-anchor="end" fill="#333" transform="translate(399.90 359.93) scale(1.250 1)">6</text>
<text font-size="5.3" fill="#333" transform="translate(402.70 344.70) scale(1.200 1)">&#215;<tspan dx="0.6">10</tspan><tspan font-size="4.4" dy="-2.6">7</tspan></text>
<text font-size="5.3" fill="#333" transform="translate(508.10 460.70) scale(1.200 1)">&#215;<tspan dx="0.6">10</tspan><tspan font-size="4.4" dy="-2.6">7</tspan></text>
<rect x="407.40" y="350.40" width="41.20" height="21.90" fill="#fff" stroke="#777" stroke-width="0.70"/>
<circle cx="419.70" cy="354.70" r="1.7" fill="none" stroke="#333" stroke-width="0.6"/>
<text x="0.00" y="0.00" font-size="4.50" text-anchor="start" fill="#111" transform="translate(431.50 357.00) scale(1.300 1)">Data</text>
<line x1="409.70" y1="361.20" x2="429.70" y2="361.20" stroke="#0000ff" stroke-width="1.20"/>
<text x="0.00" y="0.00" font-size="4.50" text-anchor="start" fill="#111" transform="translate(431.50 363.20) scale(1.300 1)">Fit</text>
<line x1="409.70" y1="367.60" x2="429.70" y2="367.60" stroke="#aaa" stroke-width="0.60" stroke-dasharray="0.8 0.8"/>
<text x="0.00" y="0.00" font-size="4.50" text-anchor="start" fill="#111" transform="translate(431.50 369.70) scale(1.300 1)">Y = T</text>
<text x="0.00" y="0.00" font-size="6.60" text-anchor="middle" font-weight="bold" fill="#1e1e1e" transform="translate(462.80 344.00) scale(1.230 1)">Training: R=1</text>
<text x="0.00" y="0.00" font-size="6.60" text-anchor="middle" font-weight="bold" fill="#1e1e1e" transform="translate(462.80 460.60) scale(1.240 1)">Target</text>
<text font-size="6.7" font-weight="bold" text-anchor="middle" fill="#1e1e1e" transform="translate(392.70 395.35) rotate(-90) scale(1 1.280)">Output ~= 1*Target + 0.64</text>
</g>
<g>
<circle cx="561.40" cy="444.30" r="1.95" fill="none" stroke="#2e2e2e" stroke-width="0.6"/>
<circle cx="582.31" cy="427.38" r="1.95" fill="none" stroke="#2e2e2e" stroke-width="0.6"/>
<circle cx="606.26" cy="408.00" r="1.95" fill="none" stroke="#2e2e2e" stroke-width="0.6"/>
<circle cx="609.48" cy="405.40" r="1.95" fill="none" stroke="#2e2e2e" stroke-width="0.6"/>
<circle cx="615.91" cy="400.19" r="1.95" fill="none" stroke="#2e2e2e" stroke-width="0.6"/>
<circle cx="643.62" cy="377.78" r="1.95" fill="none" stroke="#2e2e2e" stroke-width="0.6"/>
<circle cx="666.85" cy="358.98" r="1.95" fill="none" stroke="#2e2e2e" stroke-width="0.6"/>
<circle cx="670.07" cy="356.38" r="1.95" fill="none" stroke="#2e2e2e" stroke-width="0.6"/>
<circle cx="673.11" cy="353.92" r="1.95" fill="none" stroke="#2e2e2e" stroke-width="0.6"/>
<circle cx="682.04" cy="346.69" r="1.95" fill="none" stroke="#2e2e2e" stroke-width="0.6"/>
<circle cx="682.58" cy="346.26" r="1.95" fill="none" stroke="#2e2e2e" stroke-width="0.6"/>
<line x1="561.40" y1="444.30" x2="682.40" y2="346.40" stroke="#00ee00" stroke-width="1.45"/>
<line x1="561.40" y1="444.30" x2="682.40" y2="346.40" stroke="#999" stroke-width="0.60" stroke-dasharray="1 1"/>
<rect x="561.40" y="346.40" width="121.00" height="97.90" fill="none" stroke="#555" stroke-width="1.0"/>
<line x1="579.27" y1="444.30" x2="579.27" y2="442.50" stroke="#555" stroke-width="0.80"/>
<line x1="579.27" y1="346.40" x2="579.27" y2="348.20" stroke="#555" stroke-width="0.80"/>
<text x="0.00" y="0.00" font-size="5.30" text-anchor="middle" fill="#333" transform="translate(579.27 451.60) scale(1.250 1)">1</text>
<line x1="561.40" y1="429.84" x2="563.20" y2="429.84" stroke="#555" stroke-width="0.80"/>
<line x1="682.40" y1="429.84" x2="680.60" y2="429.84" stroke="#555" stroke-width="0.80"/>
<text x="0.00" y="0.00" font-size="5.30" text-anchor="end" fill="#333" transform="translate(559.00 432.24) scale(1.250 1)">1</text>
<line x1="597.15" y1="444.30" x2="597.15" y2="442.50" stroke="#555" stroke-width="0.80"/>
<line x1="597.15" y1="346.40" x2="597.15" y2="348.20" stroke="#555" stroke-width="0.80"/>
<text x="0.00" y="0.00" font-size="5.30" text-anchor="middle" fill="#333" transform="translate(597.15 451.60) scale(1.250 1)">2</text>
<line x1="561.40" y1="415.38" x2="563.20" y2="415.38" stroke="#555" stroke-width="0.80"/>
<line x1="682.40" y1="415.38" x2="680.60" y2="415.38" stroke="#555" stroke-width="0.80"/>
<text x="0.00" y="0.00" font-size="5.30" text-anchor="end" fill="#333" transform="translate(559.00 417.78) scale(1.250 1)">2</text>
<line x1="615.02" y1="444.30" x2="615.02" y2="442.50" stroke="#555" stroke-width="0.80"/>
<line x1="615.02" y1="346.40" x2="615.02" y2="348.20" stroke="#555" stroke-width="0.80"/>
<text x="0.00" y="0.00" font-size="5.30" text-anchor="middle" fill="#333" transform="translate(615.02 451.60) scale(1.250 1)">3</text>
<line x1="561.40" y1="400.92" x2="563.20" y2="400.92" stroke="#555" stroke-width="0.80"/>
<line x1="682.40" y1="400.92" x2="680.60" y2="400.92" stroke="#555" stroke-width="0.80"/>
<text x="0.00" y="0.00" font-size="5.30" text-anchor="end" fill="#333" transform="translate(559.00 403.32) scale(1.250 1)">3</text>
<line x1="632.89" y1="444.30" x2="632.89" y2="442.50" stroke="#555" stroke-width="0.80"/>
<line x1="632.89" y1="346.40" x2="632.89" y2="348.20" stroke="#555" stroke-width="0.80"/>
<text x="0.00" y="0.00" font-size="5.30" text-anchor="middle" fill="#333" transform="translate(632.89 451.60) scale(1.250 1)">4</text>
<line x1="561.40" y1="386.46" x2="563.20" y2="386.46" stroke="#555" stroke-width="0.80"/>
<line x1="682.40" y1="386.46" x2="680.60" y2="386.46" stroke="#555" stroke-width="0.80"/>
<text x="0.00" y="0.00" font-size="5.30" text-anchor="end" fill="#333" transform="translate(559.00 388.86) scale(1.250 1)">4</text>
<line x1="650.76" y1="444.30" x2="650.76" y2="442.50" stroke="#555" stroke-width="0.80"/>
<line x1="650.76" y1="346.40" x2="650.76" y2="348.20" stroke="#555" stroke-width="0.80"/>
<text x="0.00" y="0.00" font-size="5.30" text-anchor="middle" fill="#333" transform="translate(650.76 451.60) scale(1.250 1)">5</text>
<line x1="561.40" y1="372.00" x2="563.20" y2="372.00" stroke="#555" stroke-width="0.80"/>
<line x1="682.40" y1="372.00" x2="680.60" y2="372.00" stroke="#555" stroke-width="0.80"/>
<text x="0.00" y="0.00" font-size="5.30" text-anchor="end" fill="#333" transform="translate(559.00 374.40) scale(1.250 1)">5</text>
<line x1="668.64" y1="444.30" x2="668.64" y2="442.50" stroke="#555" stroke-width="0.80"/>
<line x1="668.64" y1="346.40" x2="668.64" y2="348.20" stroke="#555" stroke-width="0.80"/>
<text x="0.00" y="0.00" font-size="5.30" text-anchor="middle" fill="#333" transform="translate(668.64 451.60) scale(1.250 1)">6</text>
<line x1="561.40" y1="357.53" x2="563.20" y2="357.53" stroke="#555" stroke-width="0.80"/>
<line x1="682.40" y1="357.53" x2="680.60" y2="357.53" stroke="#555" stroke-width="0.80"/>
<text x="0.00" y="0.00" font-size="5.30" text-anchor="end" fill="#333" transform="translate(559.00 359.93) scale(1.250 1)">6</text>
<text font-size="5.3" fill="#333" transform="translate(561.80 344.70) scale(1.200 1)">&#215;<tspan dx="0.6">10</tspan><tspan font-size="4.4" dy="-2.6">7</tspan></text>
<text font-size="5.3" fill="#333" transform="translate(667.20 460.70) scale(1.200 1)">&#215;<tspan dx="0.6">10</tspan><tspan font-size="4.4" dy="-2.6">7</tspan></text>
<rect x="566.50" y="350.40" width="41.20" height="21.90" fill="#fff" stroke="#777" stroke-width="0.70"/>
<circle cx="578.80" cy="354.70" r="1.7" fill="none" stroke="#333" stroke-width="0.6"/>
<text x="0.00" y="0.00" font-size="4.50" text-anchor="start" fill="#111" transform="translate(590.60 357.00) scale(1.300 1)">Data</text>
<line x1="568.80" y1="361.20" x2="588.80" y2="361.20" stroke="#00ee00" stroke-width="1.20"/>
<text x="0.00" y="0.00" font-size="4.50" text-anchor="start" fill="#111" transform="translate(590.60 363.20) scale(1.300 1)">Fit</text>
<line x1="568.80" y1="367.60" x2="588.80" y2="367.60" stroke="#aaa" stroke-width="0.60" stroke-dasharray="0.8 0.8"/>
<text x="0.00" y="0.00" font-size="4.50" text-anchor="start" fill="#111" transform="translate(590.60 369.70) scale(1.300 1)">Y = T</text>
<text x="0.00" y="0.00" font-size="6.60" text-anchor="middle" font-weight="bold" fill="#1e1e1e" transform="translate(621.90 344.00) scale(1.230 1)">Validation: R=1</text>
<text x="0.00" y="0.00" font-size="6.60" text-anchor="middle" font-weight="bold" fill="#1e1e1e" transform="translate(621.90 460.60) scale(1.240 1)">Target</text>
<text font-size="6.7" font-weight="bold" text-anchor="middle" fill="#1e1e1e" transform="translate(551.80 395.35) rotate(-90) scale(1 1.280)">Output ~= 1*Target + 35</text>
</g>
<g>
<circle cx="402.30" cy="583.30" r="1.95" fill="none" stroke="#2e2e2e" stroke-width="0.6"/>
<circle cx="404.44" cy="581.56" r="1.95" fill="none" stroke="#2e2e2e" stroke-width="0.6"/>
<circle cx="410.88" cy="576.36" r="1.95" fill="none" stroke="#2e2e2e" stroke-width="0.6"/>
<circle cx="416.96" cy="571.44" r="1.95" fill="none" stroke="#2e2e2e" stroke-width="0.6"/>
<circle cx="426.79" cy="563.49" r="1.95" fill="none" stroke="#2e2e2e" stroke-width="0.6"/>
<circle cx="437.15" cy="555.10" r="1.95" fill="none" stroke="#2e2e2e" stroke-width="0.6"/>
<circle cx="463.07" cy="534.13" r="1.95" fill="none" stroke="#2e2e2e" stroke-width="0.6"/>
<circle cx="474.69" cy="524.73" r="1.95" fill="none" stroke="#2e2e2e" stroke-width="0.6"/>
<circle cx="514.90" cy="492.20" r="1.95" fill="none" stroke="#2e2e2e" stroke-width="0.6"/>
<circle cx="522.41" cy="486.12" r="1.95" fill="none" stroke="#2e2e2e" stroke-width="0.6"/>
<circle cx="523.48" cy="485.26" r="1.95" fill="none" stroke="#2e2e2e" stroke-width="0.6"/>
<line x1="402.30" y1="583.30" x2="523.30" y2="485.40" stroke="#ff0000" stroke-width="1.20"/>
<line x1="402.30" y1="583.30" x2="523.30" y2="485.40" stroke="#999" stroke-width="0.60" stroke-dasharray="1 1"/>
<rect x="402.30" y="485.40" width="121.00" height="97.90" fill="none" stroke="#555" stroke-width="1.0"/>
<line x1="420.17" y1="583.30" x2="420.17" y2="581.50" stroke="#555" stroke-width="0.80"/>
<line x1="420.17" y1="485.40" x2="420.17" y2="487.20" stroke="#555" stroke-width="0.80"/>
<text x="0.00" y="0.00" font-size="5.30" text-anchor="middle" fill="#333" transform="translate(420.17 590.60) scale(1.250 1)">1</text>
<line x1="402.30" y1="568.84" x2="404.10" y2="568.84" stroke="#555" stroke-width="0.80"/>
<line x1="523.30" y1="568.84" x2="521.50" y2="568.84" stroke="#555" stroke-width="0.80"/>
<text x="0.00" y="0.00" font-size="5.30" text-anchor="end" fill="#333" transform="translate(399.90 571.24) scale(1.250 1)">1</text>
<line x1="438.05" y1="583.30" x2="438.05" y2="581.50" stroke="#555" stroke-width="0.80"/>
<line x1="438.05" y1="485.40" x2="438.05" y2="487.20" stroke="#555" stroke-width="0.80"/>
<text x="0.00" y="0.00" font-size="5.30" text-anchor="middle" fill="#333" transform="translate(438.05 590.60) scale(1.250 1)">2</text>
<line x1="402.30" y1="554.38" x2="404.10" y2="554.38" stroke="#555" stroke-width="0.80"/>
<line x1="523.30" y1="554.38" x2="521.50" y2="554.38" stroke="#555" stroke-width="0.80"/>
<text x="0.00" y="0.00" font-size="5.30" text-anchor="end" fill="#333" transform="translate(399.90 556.78) scale(1.250 1)">2</text>
<line x1="455.92" y1="583.30" x2="455.92" y2="581.50" stroke="#555" stroke-width="0.80"/>
<line x1="455.92" y1="485.40" x2="455.92" y2="487.20" stroke="#555" stroke-width="0.80"/>
<text x="0.00" y="0.00" font-size="5.30" text-anchor="middle" fill="#333" transform="translate(455.92 590.60) scale(1.250 1)">3</text>
<line x1="402.30" y1="539.92" x2="404.10" y2="539.92" stroke="#555" stroke-width="0.80"/>
<line x1="523.30" y1="539.92" x2="521.50" y2="539.92" stroke="#555" stroke-width="0.80"/>
<text x="0.00" y="0.00" font-size="5.30" text-anchor="end" fill="#333" transform="translate(399.90 542.32) scale(1.250 1)">3</text>
<line x1="473.79" y1="583.30" x2="473.79" y2="581.50" stroke="#555" stroke-width="0.80"/>
<line x1="473.79" y1="485.40" x2="473.79" y2="487.20" stroke="#555" stroke-width="0.80"/>
<text x="0.00" y="0.00" font-size="5.30" text-anchor="middle" fill="#333" transform="translate(473.79 590.60) scale(1.250 1)">4</text>
<line x1="402.30" y1="525.46" x2="404.10" y2="525.46" stroke="#555" stroke-width="0.80"/>
<line x1="523.30" y1="525.46" x2="521.50" y2="525.46" stroke="#555" stroke-width="0.80"/>
<text x="0.00" y="0.00" font-size="5.30" text-anchor="end" fill="#333" transform="translate(399.90 527.86) scale(1.250 1)">4</text>
<line x1="491.66" y1="583.30" x2="491.66" y2="581.50" stroke="#555" stroke-width="0.80"/>
<line x1="491.66" y1="485.40" x2="491.66" y2="487.20" stroke="#555" stroke-width="0.80"/>
<text x="0.00" y="0.00" font-size="5.30" text-anchor="middle" fill="#333" transform="translate(491.66 590.60) scale(1.250 1)">5</text>
<line x1="402.30" y1="511.00" x2="404.10" y2="511.00" stroke="#555" stroke-width="0.80"/>
<line x1="523.30" y1="511.00" x2="521.50" y2="511.00" stroke="#555" stroke-width="0.80"/>
<text x="0.00" y="0.00" font-size="5.30" text-anchor="end" fill="#333" transform="translate(399.90 513.40) scale(1.250 1)">5</text>
<line x1="509.54" y1="583.30" x2="509.54" y2="581.50" stroke="#555" stroke-width="0.80"/>
<line x1="509.54" y1="485.40" x2="509.54" y2="487.20" stroke="#555" stroke-width="0.80"/>
<text x="0.00" y="0.00" font-size="5.30" text-anchor="middle" fill="#333" transform="translate(509.54 590.60) scale(1.250 1)">6</text>
<line x1="402.30" y1="496.53" x2="404.10" y2="496.53" stroke="#555" stroke-width="0.80"/>
<line x1="523.30" y1="496.53" x2="521.50" y2="496.53" stroke="#555" stroke-width="0.80"/>
<text x="0.00" y="0.00" font-size="5.30" text-anchor="end" fill="#333" transform="translate(399.90 498.93) scale(1.250 1)">6</text>
<text font-size="5.3" fill="#333" transform="translate(402.70 483.70) scale(1.200 1)">&#215;<tspan dx="0.6">10</tspan><tspan font-size="4.4" dy="-2.6">7</tspan></text>
<text font-size="5.3" fill="#333" transform="translate(508.10 599.70) scale(1.200 1)">&#215;<tspan dx="0.6">10</tspan><tspan font-size="4.4" dy="-2.6">7</tspan></text>
<rect x="407.40" y="489.40" width="41.20" height="21.90" fill="#fff" stroke="#777" stroke-width="0.70"/>
<circle cx="419.70" cy="493.70" r="1.7" fill="none" stroke="#333" stroke-width="0.6"/>
<text x="0.00" y="0.00" font-size="4.50" text-anchor="start" fill="#111" transform="translate(431.50 496.00) scale(1.300 1)">Data</text>
<line x1="409.70" y1="500.20" x2="429.70" y2="500.20" stroke="#ff0000" stroke-width="1.20"/>
<text x="0.00" y="0.00" font-size="4.50" text-anchor="start" fill="#111" transform="translate(431.50 502.20) scale(1.300 1)">Fit</text>
<line x1="409.70" y1="506.60" x2="429.70" y2="506.60" stroke="#aaa" stroke-width="0.60" stroke-dasharray="0.8 0.8"/>
<text x="0.00" y="0.00" font-size="4.50" text-anchor="start" fill="#111" transform="translate(431.50 508.70) scale(1.300 1)">Y = T</text>
<text x="0.00" y="0.00" font-size="6.60" text-anchor="middle" font-weight="bold" fill="#1e1e1e" transform="translate(462.80 483.00) scale(1.230 1)">Test: R=1</text>
<text x="0.00" y="0.00" font-size="6.60" text-anchor="middle" font-weight="bold" fill="#1e1e1e" transform="translate(462.80 599.60) scale(1.240 1)">Target</text>
<text font-size="6.7" font-weight="bold" text-anchor="middle" fill="#1e1e1e" transform="translate(392.70 534.35) rotate(-90) scale(1 1.280)">Output ~= 1*Target + 71</text>
</g>
<g>
<circle cx="561.40" cy="583.30" r="1.95" fill="none" stroke="#2e2e2e" stroke-width="0.6"/>
<circle cx="561.94" cy="582.87" r="1.95" fill="none" stroke="#2e2e2e" stroke-width="0.6"/>
<circle cx="562.47" cy="582.43" r="1.95" fill="none" stroke="#2e2e2e" stroke-width="0.6"/>
<circle cx="563.54" cy="581.56" r="1.95" fill="none" stroke="#2e2e2e" stroke-width="0.6"/>
<circle cx="566.44" cy="579.22" r="1.95" fill="none" stroke="#2e2e2e" stroke-width="0.6"/>
<circle cx="569.34" cy="576.88" r="1.95" fill="none" stroke="#2e2e2e" stroke-width="0.6"/>
<circle cx="572.23" cy="574.54" r="1.95" fill="none" stroke="#2e2e2e" stroke-width="0.6"/>
<circle cx="575.13" cy="572.19" r="1.95" fill="none" stroke="#2e2e2e" stroke-width="0.6"/>
<circle cx="578.02" cy="569.85" r="1.95" fill="none" stroke="#2e2e2e" stroke-width="0.6"/>
<circle cx="580.92" cy="567.51" r="1.95" fill="none" stroke="#2e2e2e" stroke-width="0.6"/>
<circle cx="583.81" cy="565.17" r="1.95" fill="none" stroke="#2e2e2e" stroke-width="0.6"/>
<circle cx="586.71" cy="562.82" r="1.95" fill="none" stroke="#2e2e2e" stroke-width="0.6"/>
<circle cx="589.60" cy="560.48" r="1.95" fill="none" stroke="#2e2e2e" stroke-width="0.6"/>
<circle cx="592.50" cy="558.14" r="1.95" fill="none" stroke="#2e2e2e" stroke-width="0.6"/>
<circle cx="595.39" cy="555.80" r="1.95" fill="none" stroke="#2e2e2e" stroke-width="0.6"/>
<circle cx="598.29" cy="553.45" r="1.95" fill="none" stroke="#2e2e2e" stroke-width="0.6"/>
<circle cx="601.19" cy="551.11" r="1.95" fill="none" stroke="#2e2e2e" stroke-width="0.6"/>
<circle cx="604.08" cy="548.77" r="1.95" fill="none" stroke="#2e2e2e" stroke-width="0.6"/>
<circle cx="606.98" cy="546.42" r="1.95" fill="none" stroke="#2e2e2e" stroke-width="0.6"/>
<circle cx="609.87" cy="544.08" r="1.95" fill="none" stroke="#2e2e2e" stroke-width="0.6"/>
<circle cx="612.77" cy="541.74" r="1.95" fill="none" stroke="#2e2e2e" stroke-width="0.6"/>
<circle cx="615.66" cy="539.40" r="1.95" fill="none" stroke="#2e2e2e" stroke-width="0.6"/>
<circle cx="618.56" cy="537.05" r="1.95" fill="none" stroke="#2e2e2e" stroke-width="0.6"/>
<circle cx="621.45" cy="534.71" r="1.95" fill="none" stroke="#2e2e2e" stroke-width="0.6"/>
<circle cx="624.35" cy="532.37" r="1.95" fill="none" stroke="#2e2e2e" stroke-width="0.6"/>
<circle cx="627.24" cy="530.03" r="1.95" fill="none" stroke="#2e2e2e" stroke-width="0.6"/>
<circle cx="630.14" cy="527.68" r="1.95" fill="none" stroke="#2e2e2e" stroke-width="0.6"/>
<circle cx="633.03" cy="525.34" r="1.95" fill="none" stroke="#2e2e2e" stroke-width="0.6"/>
<circle cx="635.93" cy="523.00" r="1.95" fill="none" stroke="#2e2e2e" stroke-width="0.6"/>
<circle cx="638.83" cy="520.66" r="1.95" fill="none" stroke="#2e2e2e" stroke-width="0.6"/>
<circle cx="641.72" cy="518.31" r="1.95" fill="none" stroke="#2e2e2e" stroke-width="0.6"/>
<circle cx="644.62" cy="515.97" r="1.95" fill="none" stroke="#2e2e2e" stroke-width="0.6"/>
<circle cx="647.51" cy="513.63" r="1.95" fill="none" stroke="#2e2e2e" stroke-width="0.6"/>
<circle cx="650.41" cy="511.28" r="1.95" fill="none" stroke="#2e2e2e" stroke-width="0.6"/>
<circle cx="653.30" cy="508.94" r="1.95" fill="none" stroke="#2e2e2e" stroke-width="0.6"/>
<circle cx="656.20" cy="506.60" r="1.95" fill="none" stroke="#2e2e2e" stroke-width="0.6"/>
<circle cx="656.13" cy="506.66" r="1.95" fill="none" stroke="#2e2e2e" stroke-width="0.6"/>
<circle cx="657.74" cy="505.36" r="1.95" fill="none" stroke="#2e2e2e" stroke-width="0.6"/>
<circle cx="659.34" cy="504.05" r="1.95" fill="none" stroke="#2e2e2e" stroke-width="0.6"/>
<circle cx="660.95" cy="502.75" r="1.95" fill="none" stroke="#2e2e2e" stroke-width="0.6"/>
<circle cx="662.56" cy="501.45" r="1.95" fill="none" stroke="#2e2e2e" stroke-width="0.6"/>
<circle cx="664.17" cy="500.15" r="1.95" fill="none" stroke="#2e2e2e" stroke-width="0.6"/>
<circle cx="665.78" cy="498.85" r="1.95" fill="none" stroke="#2e2e2e" stroke-width="0.6"/>
<circle cx="667.39" cy="497.55" r="1.95" fill="none" stroke="#2e2e2e" stroke-width="0.6"/>
<circle cx="669.00" cy="496.25" r="1.95" fill="none" stroke="#2e2e2e" stroke-width="0.6"/>
<circle cx="670.60" cy="494.94" r="1.95" fill="none" stroke="#2e2e2e" stroke-width="0.6"/>
<circle cx="672.21" cy="493.64" r="1.95" fill="none" stroke="#2e2e2e" stroke-width="0.6"/>
<circle cx="672.60" cy="493.33" r="1.95" fill="none" stroke="#2e2e2e" stroke-width="0.6"/>
<circle cx="672.98" cy="493.02" r="1.95" fill="none" stroke="#2e2e2e" stroke-width="0.6"/>
<circle cx="673.36" cy="492.71" r="1.95" fill="none" stroke="#2e2e2e" stroke-width="0.6"/>
<circle cx="673.75" cy="492.40" r="1.95" fill="none" stroke="#2e2e2e" stroke-width="0.6"/>
<circle cx="674.13" cy="492.09" r="1.95" fill="none" stroke="#2e2e2e" stroke-width="0.6"/>
<circle cx="674.52" cy="491.78" r="1.95" fill="none" stroke="#2e2e2e" stroke-width="0.6"/>
<circle cx="674.90" cy="491.47" r="1.95" fill="none" stroke="#2e2e2e" stroke-width="0.6"/>
<circle cx="675.28" cy="491.16" r="1.95" fill="none" stroke="#2e2e2e" stroke-width="0.6"/>
<circle cx="675.67" cy="490.85" r="1.95" fill="none" stroke="#2e2e2e" stroke-width="0.6"/>
<circle cx="676.05" cy="490.54" r="1.95" fill="none" stroke="#2e2e2e" stroke-width="0.6"/>
<circle cx="676.44" cy="490.23" r="1.95" fill="none" stroke="#2e2e2e" stroke-width="0.6"/>
<circle cx="676.82" cy="489.92" r="1.95" fill="none" stroke="#2e2e2e" stroke-width="0.6"/>
<circle cx="677.20" cy="489.60" r="1.95" fill="none" stroke="#2e2e2e" stroke-width="0.6"/>
<circle cx="677.59" cy="489.29" r="1.95" fill="none" stroke="#2e2e2e" stroke-width="0.6"/>
<circle cx="677.97" cy="488.98" r="1.95" fill="none" stroke="#2e2e2e" stroke-width="0.6"/>
<circle cx="678.36" cy="488.67" r="1.95" fill="none" stroke="#2e2e2e" stroke-width="0.6"/>
<circle cx="678.74" cy="488.36" r="1.95" fill="none" stroke="#2e2e2e" stroke-width="0.6"/>
<circle cx="679.12" cy="488.05" r="1.95" fill="none" stroke="#2e2e2e" stroke-width="0.6"/>
<circle cx="679.51" cy="487.74" r="1.95" fill="none" stroke="#2e2e2e" stroke-width="0.6"/>
<circle cx="679.89" cy="487.43" r="1.95" fill="none" stroke="#2e2e2e" stroke-width="0.6"/>
<circle cx="680.28" cy="487.12" r="1.95" fill="none" stroke="#2e2e2e" stroke-width="0.6"/>
<circle cx="680.66" cy="486.81" r="1.95" fill="none" stroke="#2e2e2e" stroke-width="0.6"/>
<circle cx="681.04" cy="486.50" r="1.95" fill="none" stroke="#2e2e2e" stroke-width="0.6"/>
<circle cx="681.43" cy="486.19" r="1.95" fill="none" stroke="#2e2e2e" stroke-width="0.6"/>
<circle cx="681.81" cy="485.88" r="1.95" fill="none" stroke="#2e2e2e" stroke-width="0.6"/>
<circle cx="682.19" cy="485.57" r="1.95" fill="none" stroke="#2e2e2e" stroke-width="0.6"/>
<circle cx="682.58" cy="485.26" r="1.95" fill="none" stroke="#2e2e2e" stroke-width="0.6"/>
<line x1="561.40" y1="583.30" x2="682.40" y2="485.40" stroke="#222222" stroke-width="1.00"/>
<line x1="561.40" y1="583.30" x2="682.40" y2="485.40" stroke="#999" stroke-width="0.60" stroke-dasharray="1 1"/>
<rect x="561.40" y="485.40" width="121.00" height="97.90" fill="none" stroke="#555" stroke-width="1.0"/>
<line x1="579.27" y1="583.30" x2="579.27" y2="581.50" stroke="#555" stroke-width="0.80"/>
<line x1="579.27" y1="485.40" x2="579.27" y2="487.20" stroke="#555" stroke-width="0.80"/>
<text x="0.00" y="0.00" font-size="5.30" text-anchor="middle" fill="#333" transform="translate(579.27 590.60) scale(1.250 1)">1</text>
<line x1="561.40" y1="568.84" x2="563.20" y2="568.84" stroke="#555" stroke-width="0.80"/>
<line x1="682.40" y1="568.84" x2="680.60" y2="568.84" stroke="#555" stroke-width="0.80"/>
<text x="0.00" y="0.00" font-size="5.30" text-anchor="end" fill="#333" transform="translate(559.00 571.24) scale(1.250 1)">1</text>
<line x1="597.15" y1="583.30" x2="597.15" y2="581.50" stroke="#555" stroke-width="0.80"/>
<line x1="597.15" y1="485.40" x2="597.15" y2="487.20" stroke="#555" stroke-width="0.80"/>
<text x="0.00" y="0.00" font-size="5.30" text-anchor="middle" fill="#333" transform="translate(597.15 590.60) scale(1.250 1)">2</text>
<line x1="561.40" y1="554.38" x2="563.20" y2="554.38" stroke="#555" stroke-width="0.80"/>
<line x1="682.40" y1="554.38" x2="680.60" y2="554.38" stroke="#555" stroke-width="0.80"/>
<text x="0.00" y="0.00" font-size="5.30" text-anchor="end" fill="#333" transform="translate(559.00 556.78) scale(1.250 1)">2</text>
<line x1="615.02" y1="583.30" x2="615.02" y2="581.50" stroke="#555" stroke-width="0.80"/>
<line x1="615.02" y1="485.40" x2="615.02" y2="487.20" stroke="#555" stroke-width="0.80"/>
<text x="0.00" y="0.00" font-size="5.30" text-anchor="middle" fill="#333" transform="translate(615.02 590.60) scale(1.250 1)">3</text>
<line x1="561.40" y1="539.92" x2="563.20" y2="539.92" stroke="#555" stroke-width="0.80"/>
<line x1="682.40" y1="539.92" x2="680.60" y2="539.92" stroke="#555" stroke-width="0.80"/>
<text x="0.00" y="0.00" font-size="5.30" text-anchor="end" fill="#333" transform="translate(559.00 542.32) scale(1.250 1)">3</text>
<line x1="632.89" y1="583.30" x2="632.89" y2="581.50" stroke="#555" stroke-width="0.80"/>
<line x1="632.89" y1="485.40" x2="632.89" y2="487.20" stroke="#555" stroke-width="0.80"/>
<text x="0.00" y="0.00" font-size="5.30" text-anchor="middle" fill="#333" transform="translate(632.89 590.60) scale(1.250 1)">4</text>
<line x1="561.40" y1="525.46" x2="563.20" y2="525.46" stroke="#555" stroke-width="0.80"/>
<line x1="682.40" y1="525.46" x2="680.60" y2="525.46" stroke="#555" stroke-width="0.80"/>
<text x="0.00" y="0.00" font-size="5.30" text-anchor="end" fill="#333" transform="translate(559.00 527.86) scale(1.250 1)">4</text>
<line x1="650.76" y1="583.30" x2="650.76" y2="581.50" stroke="#555" stroke-width="0.80"/>
<line x1="650.76" y1="485.40" x2="650.76" y2="487.20" stroke="#555" stroke-width="0.80"/>
<text x="0.00" y="0.00" font-size="5.30" text-anchor="middle" fill="#333" transform="translate(650.76 590.60) scale(1.250 1)">5</text>
<line x1="561.40" y1="511.00" x2="563.20" y2="511.00" stroke="#555" stroke-width="0.80"/>
<line x1="682.40" y1="511.00" x2="680.60" y2="511.00" stroke="#555" stroke-width="0.80"/>
<text x="0.00" y="0.00" font-size="5.30" text-anchor="end" fill="#333" transform="translate(559.00 513.40) scale(1.250 1)">5</text>
<line x1="668.64" y1="583.30" x2="668.64" y2="581.50" stroke="#555" stroke-width="0.80"/>
<line x1="668.64" y1="485.40" x2="668.64" y2="487.20" stroke="#555" stroke-width="0.80"/>
<text x="0.00" y="0.00" font-size="5.30" text-anchor="middle" fill="#333" transform="translate(668.64 590.60) scale(1.250 1)">6</text>
<line x1="561.40" y1="496.53" x2="563.20" y2="496.53" stroke="#555" stroke-width="0.80"/>
<line x1="682.40" y1="496.53" x2="680.60" y2="496.53" stroke="#555" stroke-width="0.80"/>
<text x="0.00" y="0.00" font-size="5.30" text-anchor="end" fill="#333" transform="translate(559.00 498.93) scale(1.250 1)">6</text>
<text font-size="5.3" fill="#333" transform="translate(561.80 483.70) scale(1.200 1)">&#215;<tspan dx="0.6">10</tspan><tspan font-size="4.4" dy="-2.6">7</tspan></text>
<text font-size="5.3" fill="#333" transform="translate(667.20 599.70) scale(1.200 1)">&#215;<tspan dx="0.6">10</tspan><tspan font-size="4.4" dy="-2.6">7</tspan></text>
<rect x="566.50" y="489.40" width="41.20" height="21.90" fill="#fff" stroke="#777" stroke-width="0.70"/>
<circle cx="578.80" cy="493.70" r="1.7" fill="none" stroke="#333" stroke-width="0.6"/>
<text x="0.00" y="0.00" font-size="4.50" text-anchor="start" fill="#111" transform="translate(590.60 496.00) scale(1.300 1)">Data</text>
<line x1="568.80" y1="500.20" x2="588.80" y2="500.20" stroke="#222222" stroke-width="1.20"/>
<text x="0.00" y="0.00" font-size="4.50" text-anchor="start" fill="#111" transform="translate(590.60 502.20) scale(1.300 1)">Fit</text>
<line x1="568.80" y1="506.60" x2="588.80" y2="506.60" stroke="#aaa" stroke-width="0.60" stroke-dasharray="0.8 0.8"/>
<text x="0.00" y="0.00" font-size="4.50" text-anchor="start" fill="#111" transform="translate(590.60 508.70) scale(1.300 1)">Y = T</text>
<text x="0.00" y="0.00" font-size="6.60" text-anchor="middle" font-weight="bold" fill="#1e1e1e" transform="translate(621.90 483.00) scale(1.230 1)">All: R=1</text>
<text x="0.00" y="0.00" font-size="6.60" text-anchor="middle" font-weight="bold" fill="#1e1e1e" transform="translate(621.90 599.60) scale(1.240 1)">Target</text>
<text font-size="6.7" font-weight="bold" text-anchor="middle" fill="#1e1e1e" transform="translate(551.80 534.35) rotate(-90) scale(1 1.280)">Output ~= 1*Target + 21</text>
</g>
</g>
<text x="165.00" y="301.50" font-size="14.3" text-anchor="middle" style="font-family:'Liberation Serif', serif;stroke:none" fill="#1a1a1a">(a)</text>
<text x="541.50" y="301.50" font-size="14.3" text-anchor="middle" style="font-family:'Liberation Serif', serif;stroke:none" fill="#1a1a1a">(b)</text>
<text x="165.00" y="634.00" font-size="14.3" text-anchor="middle" style="font-family:'Liberation Serif', serif;stroke:none" fill="#1a1a1a">(c)</text>
<text x="541.70" y="634.00" font-size="14.3" text-anchor="middle" style="font-family:'Liberation Serif', serif;stroke:none" fill="#1a1a1a">(d)</text>
</svg>
</body></html>
